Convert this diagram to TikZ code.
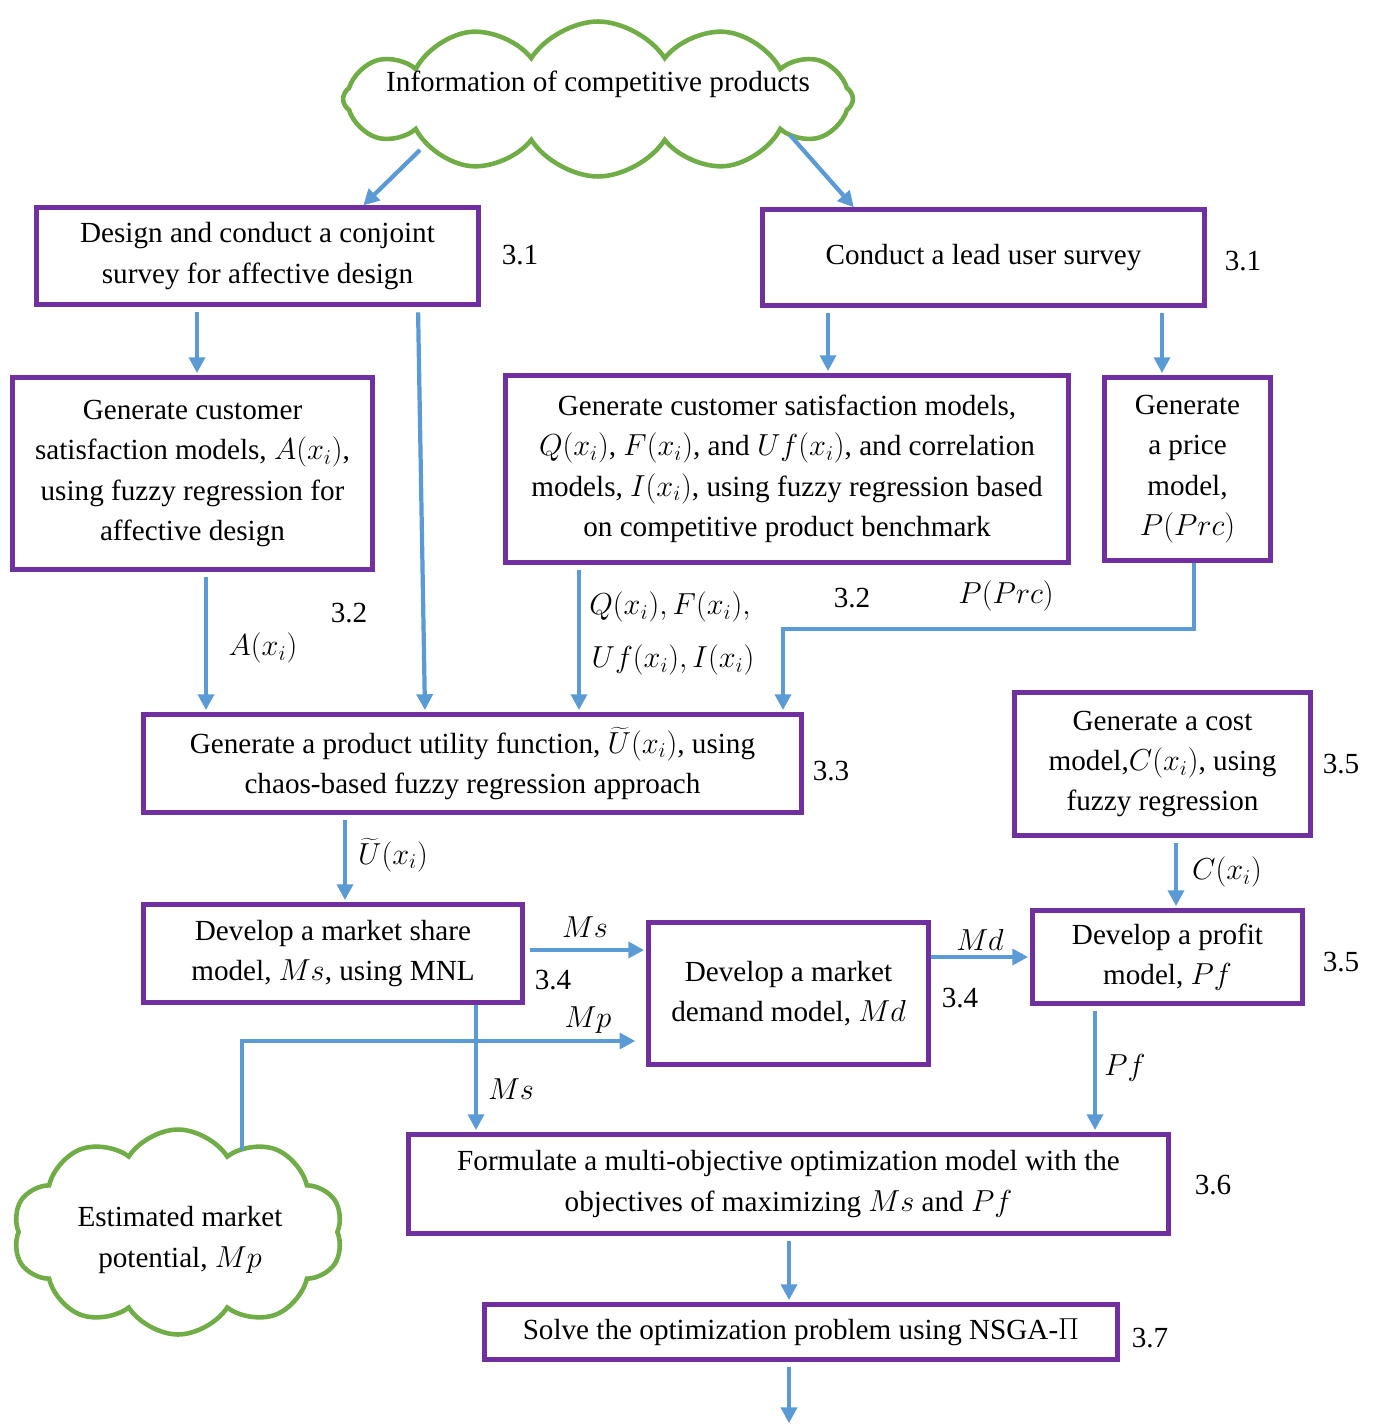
\documentclass[tikz,border=0pt]{standalone}
\usepackage{fontspec}
\setmainfont{Liberation Serif}
\usetikzlibrary{shapes.symbols,arrows.meta}
\definecolor{pur}{HTML}{7030A0}
\definecolor{blu}{HTML}{5B9BD5}
\definecolor{grn}{HTML}{70AD47}
\newcommand\fsz{\fontsize{16.6}{23}\selectfont}
\begin{document}
\begin{tikzpicture}[x=0.02cm,y=-0.02cm,
  pbox/.style={draw=pur,line width=3pt,align=center,inner sep=0pt,font=\fsz},
  arr/.style={draw=blu,line width=2.4pt,-{Triangle[length=9pt,width=9pt]},shorten >=1pt},
  lab/.style={inner sep=0pt,font=\fsz,align=center},
  cld/.style={cloud,draw=grn,line width=2.6pt,cloud puffs=11,cloud puff arc=115,inner sep=0pt}]
\useasboundingbox[fill=white] (0,0) rectangle (1378,1425);

% clouds
\node[cld,minimum width=10.2cm,minimum height=3.1cm,cloud puffs=12] (cl1) at (598,99) {};
\node[lab] (t1) at (598,84) {Information of competitive products};
\node[cld,minimum width=6.6cm,minimum height=4.1cm,cloud puffs=10] (cl2) at (178,1232) {};
\node[lab] (t2) at (180,1240) {Estimated market\\potential, $Mp$};

% boxes
\node[pbox,minimum width=8.84cm,minimum height=1.94cm] (conj) at (257.5,256) {Design and conduct a conjoint\\survey for affective design};
\node[pbox,minimum width=8.84cm,minimum height=1.92cm] (lead) at (983.5,257.5) {Conduct a lead user survey};
\node[pbox,minimum width=7.2cm,minimum height=3.84cm] (abox) at (192.5,473.5) {Generate customer\\satisfaction models, $A(x_i)$,\\using fuzzy regression for\\affective design};
\node[pbox,minimum width=11.26cm,minimum height=3.74cm] (qf) at (787,469) {Generate customer satisfaction models,\\$Q(x_i)$, $F(x_i)$, and $Uf(x_i)$, and correlation\\models, $I(x_i)$, using fuzzy regression based\\on competitive product benchmark};
\node[pbox,minimum width=3.32cm,minimum height=3.66cm] (price) at (1187.5,469) {Generate\\a price\\model,\\$P(Prc)$};
\node[pbox,minimum width=13.16cm,minimum height=1.96cm] (util) at (472.5,763.5) {Generate a product utility function, $\widetilde{U}(x_i)$, using\\chaos-based fuzzy regression approach};
\node[pbox,minimum width=5.92cm,minimum height=2.86cm] (cost) at (1162.5,764) {Generate a cost\\model,$C(x_i)$, using\\fuzzy regression};
\node[pbox,minimum width=7.58cm,minimum height=1.96cm] (ms) at (333,953.5) {Develop a market share\\model, $Ms$, using MNL};
\node[pbox,minimum width=5.6cm,minimum height=2.84cm] (md) at (788.5,993.5) {Develop a market\\demand model, $Md$};
\node[pbox,minimum width=5.4cm,minimum height=1.86cm] (pf) at (1167.5,957) {Develop a profit\\model, $Pf$};
\node[pbox,minimum width=15.2cm,minimum height=1.98cm] (form) at (788.5,1184) {Formulate a multi-objective optimization model with the\\objectives of maximizing $Ms$ and $Pf$};
\node[pbox,minimum width=12.66cm,minimum height=1.1cm] (solve) at (801,1332) {Solve the optimization problem using NSGA-$\Pi$};

% section labels
\node[lab] (s1) at (520,255) {3.1};
\node[lab] (s2) at (1243,261) {3.1};
\node[lab] (s3) at (349,613) {3.2};
\node[lab] (s4) at (852,598) {3.2};
\node[lab] (s5) at (831,771) {3.3};
\node[lab] (s6) at (1341,764) {3.5};
\node[lab] (s7) at (1341,962) {3.5};
\node[lab] (s8) at (553,980) {3.4};
\node[lab] (s9) at (960,998) {3.4};
\node[lab] (s10) at (1213,1185) {3.6};
\node[lab] (s11) at (1150,1338) {3.7};

% connector labels
\node[lab] (la) at (263,648) {$A(x_i)$};
\node[lab] (lq1) at (670,607) {$Q(x_i),F(x_i),$};
\node[lab] (lq2) at (673,660) {$Uf(x_i),I(x_i)$};
\node[lab] (lp) at (1006,596) {$P(Prc)$};
\node[lab] (lu) at (393,855) {$\widetilde{U}(x_i)$};
\node[lab] (lc) at (1227,872) {$C(x_i)$};
\node[lab] (lms1) at (585,927) {$Ms$};
\node[lab] (lmd) at (980,940) {$Md$};
\node[lab] (lmp) at (588,1020) {$Mp$};
\node[lab] (lms2) at (511,1089) {$Ms$};
\node[lab] (lpf) at (1125,1068) {$Pf$};

% helper coordinates
\coordinate (c1a) at (420,150);
\coordinate (c1b) at (790,135);
\coordinate (e1) at (362,0);
\coordinate (e2) at (855,0);
\coordinate (x3) at (197,0);
\coordinate (x4a) at (418,0);
\coordinate (x4b) at (425,0);
\coordinate (x5) at (828,0);
\coordinate (x6) at (1162,0);
\coordinate (x7) at (206,0);
\coordinate (x8) at (579,0);
\coordinate (x9) at (1194,0);
\coordinate (p9) at (783,629);
\coordinate (x10) at (345,0);
\coordinate (x11) at (1176,0);
\coordinate (y12) at (0,950);
\coordinate (y13) at (0,957);
\coordinate (x14) at (476,0);
\coordinate (c2a) at (242,1150);
\coordinate (m15) at (242,1041);
\coordinate (x16) at (1095,0);
\coordinate (x17) at (789,0);
\coordinate (bot) at (789,1425);

% connectors
\draw[arr] (c1a) -- ([yshift=-1pt]conj.north -| e1);
\draw[arr] (c1b) -- ([yshift=-1pt]lead.north -| e2);
\draw[arr,shorten <=3pt] (conj.south -| x3) -- (abox.north -| x3);
\draw[arr,shorten <=3pt] (conj.south -| x4a) -- (util.north -| x4b);
\draw[arr,shorten <=3pt] (lead.south -| x5) -- (qf.north -| x5);
\draw[arr,shorten <=3pt] (lead.south -| x6) -- (price.north -| x6);
\draw[arr,shorten <=3pt] (abox.south -| x7) -- (util.north -| x7);
\draw[arr,shorten <=3pt] (qf.south -| x8) -- (util.north -| x8);
\draw[arr] (price.south -| x9) |- (p9) -- (util.north -| p9);
\draw[arr,shorten <=3pt] (util.south -| x10) -- (ms.north -| x10);
\draw[arr,shorten <=3pt] (cost.south -| x11) -- (pf.north -| x11);
\draw[arr,shorten <=3pt] (ms.east |- y12) -- (md.west |- y12);
\draw[arr] (md.east |- y13) -- (pf.west |- y13);
\draw[arr] (ms.south -| x14) -- (form.north -| x14);
\draw[arr,shorten >=6pt] (c2a) -- (m15) -- (md.west |- m15);
\draw[arr,shorten <=3pt] (pf.south -| x16) -- (form.north -| x16);
\draw[arr,shorten <=3pt] (form.south -| x17) -- (solve.north -| x17);
\draw[arr,shorten <=3pt] (solve.south -| x17) -- (bot);
\end{tikzpicture}
\end{document}
